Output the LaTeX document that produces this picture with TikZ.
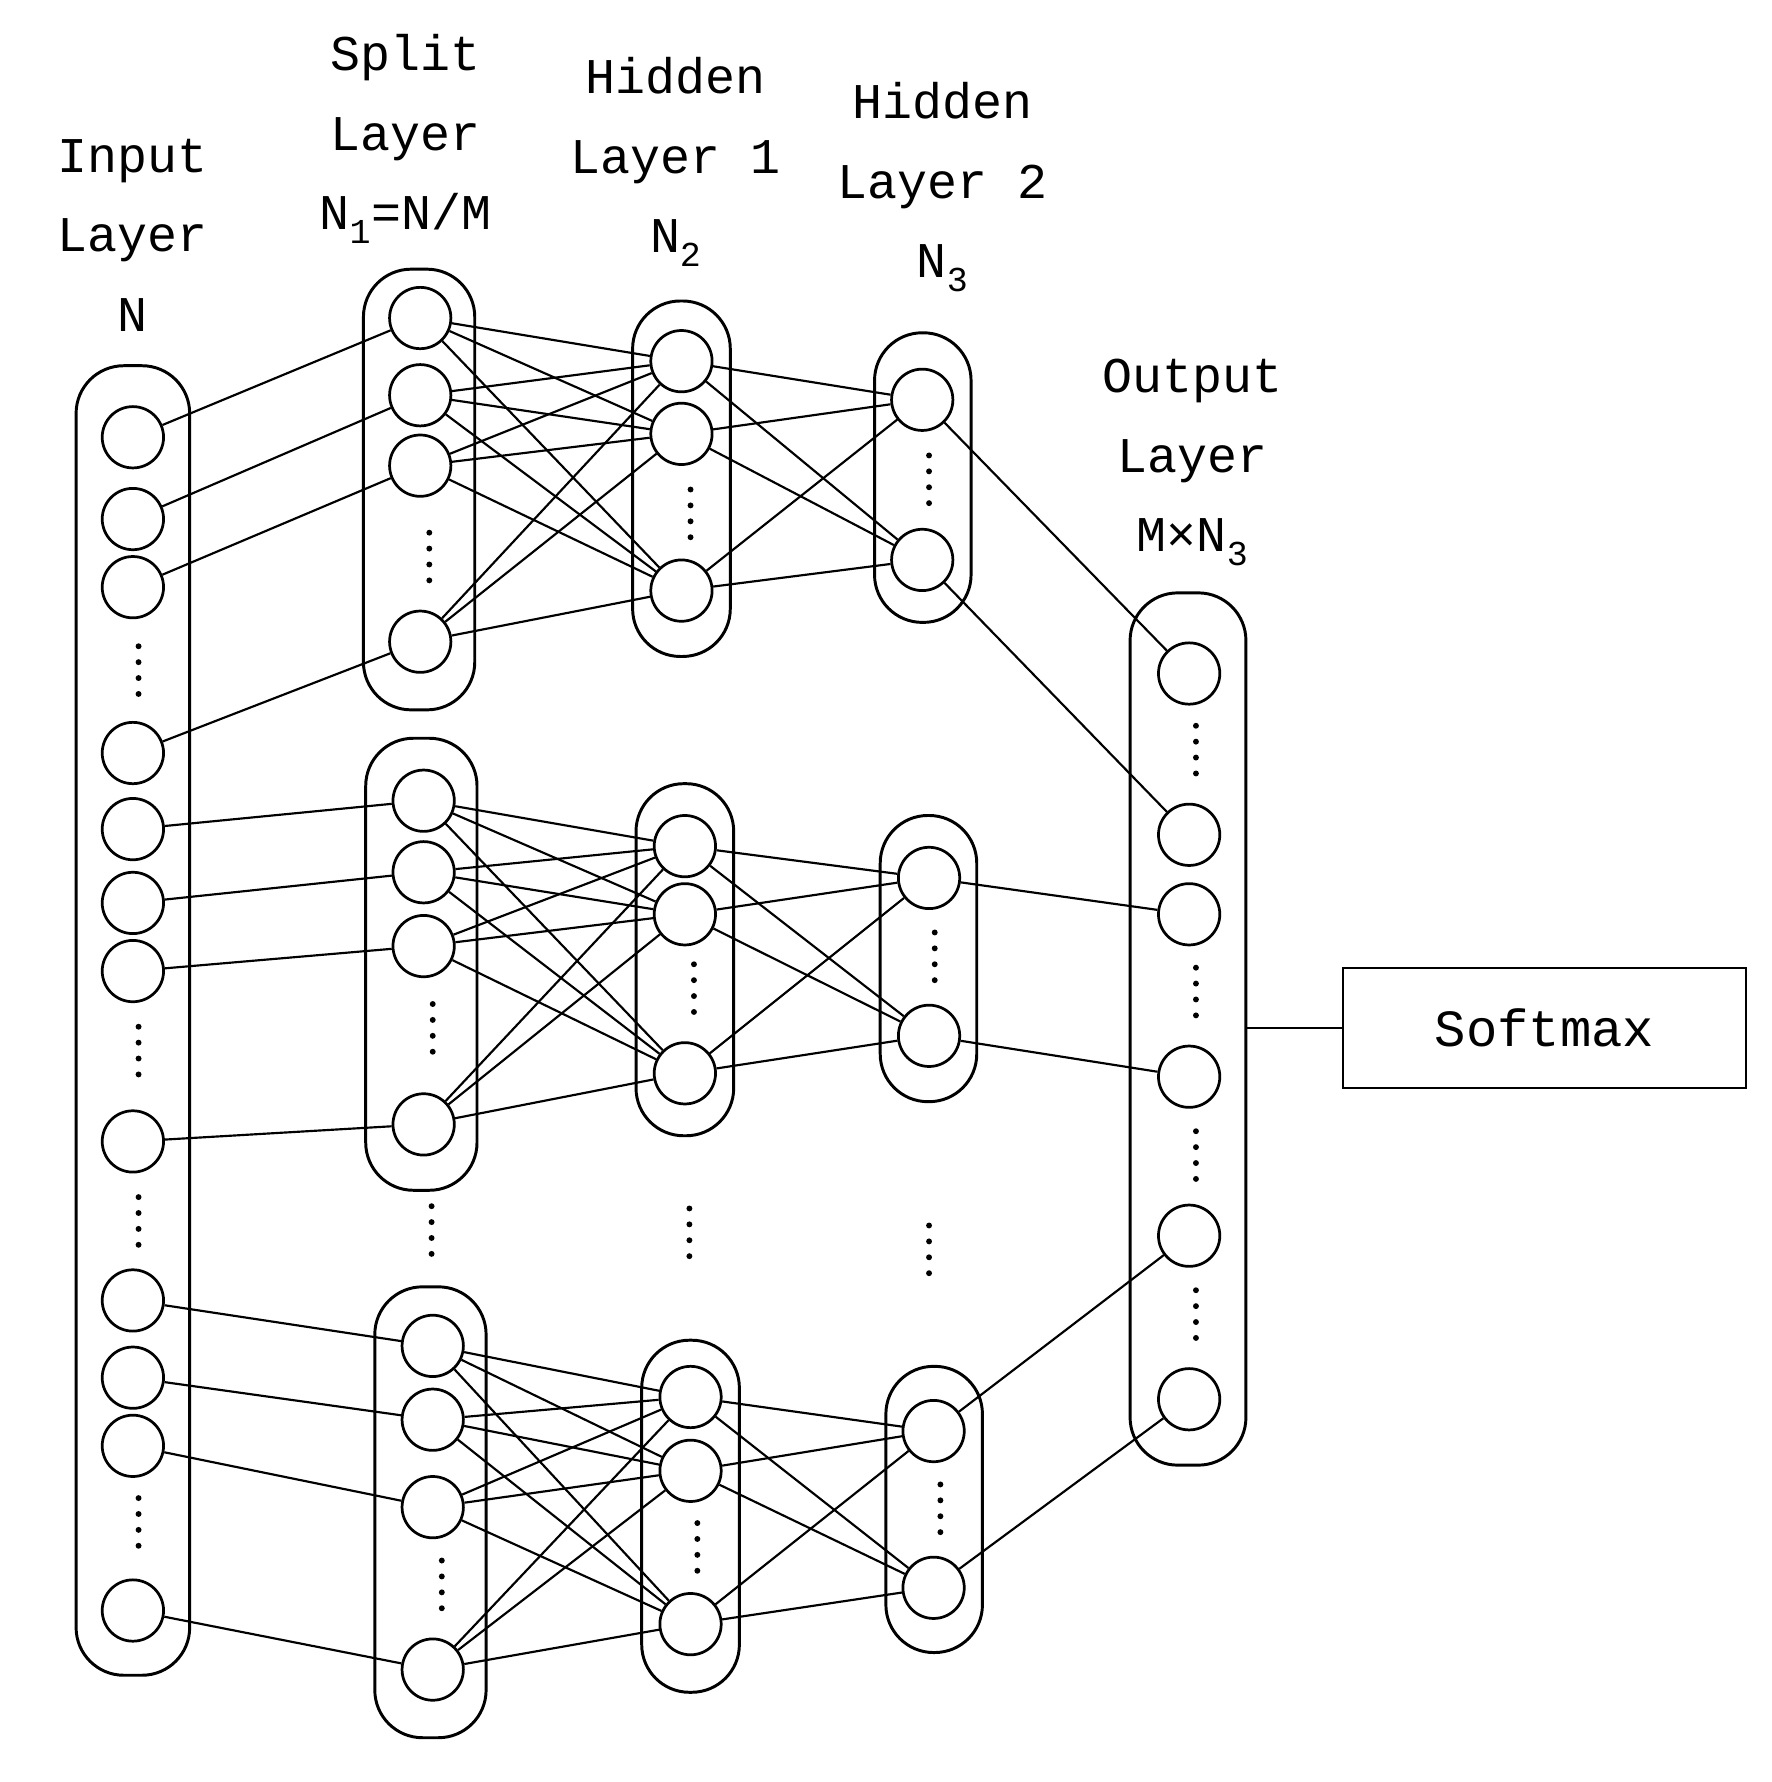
\documentclass[tikz,border=0pt]{standalone}
\usepackage{fontspec}
\setmainfont{Liberation Mono}
\begin{document}
\begin{tikzpicture}[x=1pt,y=-1pt,line width=2.4pt,
  neu/.style={draw,circle,minimum size=54pt,inner sep=0pt,line width=2.4pt},
  capsule/.style={draw,rounded corners=42pt,line width=2.6pt},
  lbl/.style={font=\fontsize{44}{70}\selectfont,align=center,anchor=north},
  con/.style={line width=1.9pt}]
\useasboundingbox (0,0) rectangle (1560,1569);
\newcommand\vdts[2]{\foreach \d in {-21,-7,7,21} \fill (#1,#2+\d) circle (2.6pt);}
% labels
\node[lbl] (l1) at (117,118) {Input\\Layer\\N};
\node[lbl] (l2) at (357,26) {Split\\Layer\\N\textsubscript{1}=N/M};
\node[lbl] (l3) at (595,46) {Hidden\\Layer 1\\N\textsubscript{2}};
\node[lbl] (l4) at (830,68) {Hidden\\Layer 2\\N\textsubscript{3}};
\node[lbl] (l5) at (1050,312) {Output\\Layer\\M×N\textsubscript{3}};
% capsules
\draw[capsule] (67,322) rectangle (167,1475);
\draw[capsule] (320,237) rectangle (418,625);
\draw[capsule] (322,650) rectangle (420,1048);
\draw[capsule] (330,1133) rectangle (428,1530);
\draw[capsule] (557,265) rectangle (643,578);
\draw[capsule] (560,690) rectangle (646,1000);
\draw[capsule] (565,1180) rectangle (651,1490);
\draw[capsule] (770,293) rectangle (855,548);
\draw[capsule] (775,718) rectangle (860,970);
\draw[capsule] (780,1203) rectangle (865,1455);
\draw[capsule] (995,522) rectangle (1097,1290);
% input
\foreach \y [count=\k] in {385,457,517,663,730,795,855,1005,1145,1213,1273,1418}
  \node[neu] (in\k) at (117,\y) {};
\vdts{122}{590}\vdts{122}{925}\vdts{122}{1075}\vdts{122}{1340}
% split
\foreach \b/\x/\ys in {1/370/{280,348,410,565},2/373/{705,768,833,990},3/381/{1185,1250,1327,1470}}
  \foreach \y [count=\k] in \ys \node[neu] (s\b\k) at (\x,\y) {};
\vdts{378}{490}\vdts{381}{905}\vdts{389}{1395}\vdts{380}{1083}
% hidden 1
\foreach \b/\x/\ys in {1/600/{318,382,520},2/603/{745,805,945},3/608/{1230,1295,1430}}
  \foreach \y [count=\k] in \ys \node[neu] (h\b\k) at (\x,\y) {};
\vdts{608}{452}\vdts{611}{870}\vdts{614}{1362}\vdts{607}{1085}
% hidden 2
\foreach \b/\x/\ys in {1/812/{352,493},2/818/{773,912},3/822/{1260,1398}}
  \foreach \y [count=\k] in \ys \node[neu] (g\b\k) at (\x,\y) {};
\vdts{818}{422}\vdts{823}{842}\vdts{828}{1328}\vdts{818}{1100}
% output
\foreach \y [count=\k] in {593,735,805,948,1088,1232}
  \node[neu] (o\k) at (1047,\y) {};
\vdts{1053}{660}\vdts{1053}{873}\vdts{1053}{1017}\vdts{1053}{1157}
% softmax
\node[draw,line width=2pt,minimum width=355pt,minimum height=106pt,font=\fontsize{46}{50}\selectfont] (sm) at (1360,905) {Softmax};
\coordinate (oc) at (1097,905);
\draw[con] (oc) -- (sm.west);
% connections
\foreach \a/\c in {1/11,2/12,3/13,4/14,5/21,6/22,7/23,8/24,9/31,10/32,11/33,12/34}
  \draw[con] (in\a) -- (s\c);
\foreach \b in {1,2,3}{
  \foreach \i in {1,...,4} \foreach \j in {1,2,3} \draw[con] (s\b\i) -- (h\b\j);
  \foreach \i in {1,2,3} \foreach \j in {1,2} \draw[con] (h\b\i) -- (g\b\j);
}
\draw[con] (g11) -- (o1); \draw[con] (g12) -- (o2);
\draw[con] (g21) -- (o3); \draw[con] (g22) -- (o4);
\draw[con] (g31) -- (o5); \draw[con] (g32) -- (o6);
\end{tikzpicture}
\end{document}
